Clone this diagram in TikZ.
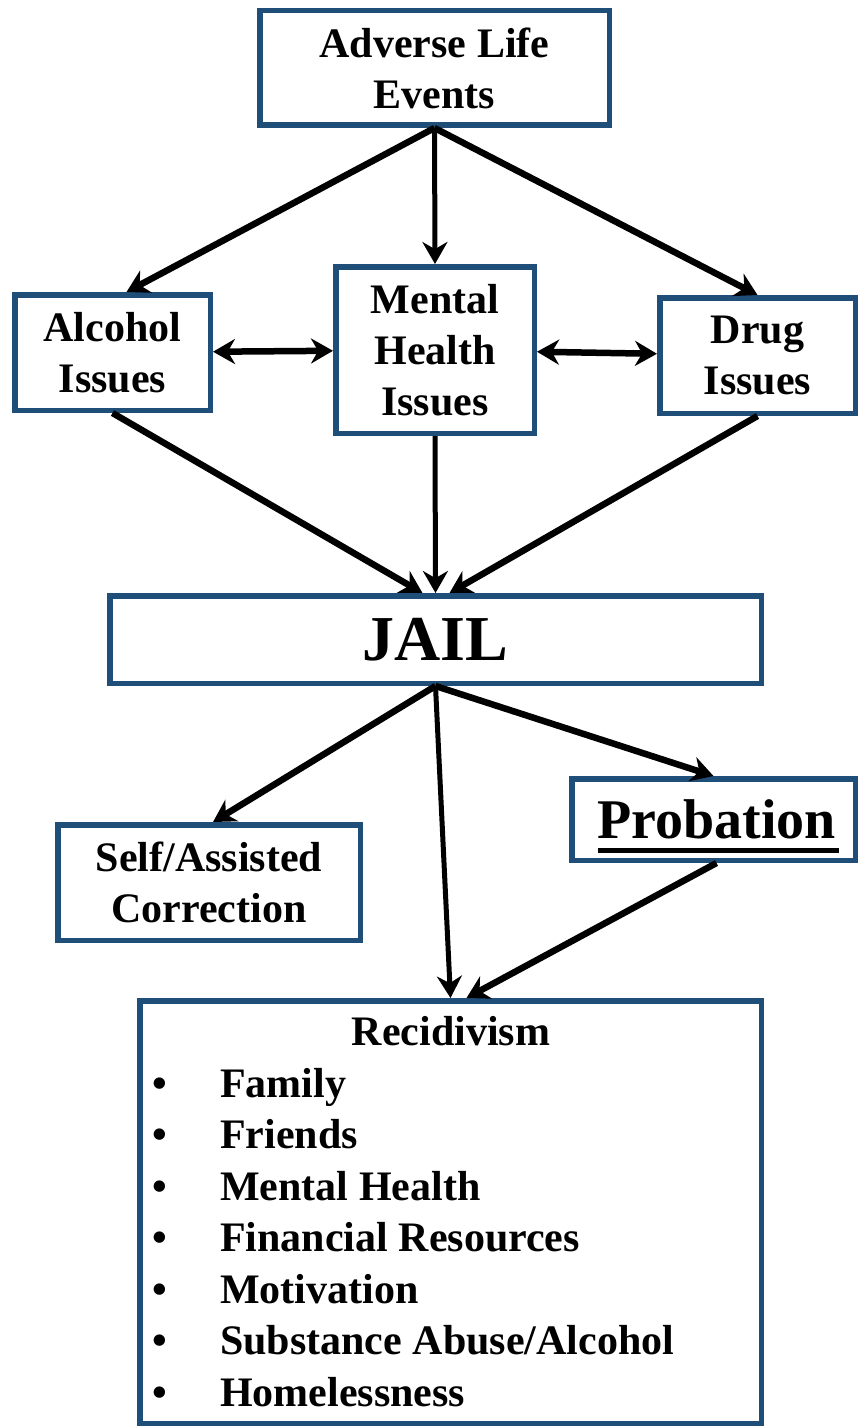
\documentclass[tikz,border=0pt]{standalone}
\usepackage{fontspec}
\setmainfont{Liberation Serif}
\usetikzlibrary{arrows.meta}
\definecolor{boxblue}{RGB}{31,78,121}

\begin{document}
\begin{tikzpicture}[x=1pt,y=-1pt,->,>={Stealth[length=22pt,width=25pt]},line width=6.5pt,
        box/.style={rectangle,draw=boxblue,line width=5.5pt,fill=white,align=center,inner sep=0pt,
          font=\bfseries\fontsize{42}{51}\selectfont},
        txt/.style={inner sep=0pt,font=\bfseries\fontsize{42}{51}\selectfont},
        vert/.style={line width=5pt}]
        \useasboundingbox (0,0) rectangle (858,1426);
        \node[box,minimum width=349.5pt,minimum height=114.5pt] (adv)  at (434.5,68)   {Adverse Life\\Events};
        \node[box,minimum width=195.5pt,minimum height=115.5pt] (alc)  at (112.5,352.5) {Alcohol\\Issues};
        \node[box,minimum width=198.5pt,minimum height=166.5pt] (mh)   at (435,350)    {Mental\\Health\\Issues};
        \node[box,minimum width=195.5pt,minimum height=115.5pt] (drug) at (757.5,355.5) {Drug\\Issues};
        \node[box,minimum width=651.5pt,minimum height=87.5pt,font=\bfseries\fontsize{64}{70}\selectfont]
                                                                (jail) at (435.5,639.5) {JAIL};
        \node[box,minimum width=302.5pt,minimum height=115.5pt] (self) at (209,882.5)  {Self/Assisted\\Correction};
        \node[box,minimum width=283.5pt,minimum height=81.5pt,font=\bfseries\fontsize{56}{60}\selectfont]
                                                                (prob) at (713.5,819.5) {\hspace*{6pt}Probation};
        \node[box,minimum width=621.5pt,minimum height=422.5pt] (recid) at (450.5,1212) {};
        % underline of Probation
        \draw[-,line width=5pt] ([xshift=-116pt,yshift=-12pt]prob.base) -- ([xshift=125pt,yshift=-12pt]prob.base);
        % contents of the recidivism box
        \node[txt,anchor=base] (rtitle) at (451,1045) {Recidivism};
        \foreach \item [count=\i from 0] in {Family,Friends,Mental Health,Financial Resources,
            Motivation,Substance Abuse/Alcohol,Homelessness} {
          \node[txt,anchor=base] (b\i) at (160,1097+51.5*\i) {\textbullet};
          \node[txt,anchor=base west] (r\i) at (217,1097+51.5*\i) {\item};
        }
        \path
          (adv.south) edge ([xshift=14pt]alc.north)
          (adv.south) edge[vert] (mh.north)
          (adv.south) edge (drug.north)
          (alc) edge[<->] (mh)
          (mh) edge[<->] (drug)
          (alc.south) edge ([xshift=-13pt]jail.north)
          (mh.south) edge[vert] (jail.north)
          (drug.south) edge ([xshift=14pt]jail.north)
          (jail.south) edge ([xshift=4pt]self.north)
          (jail.south) edge (prob.north)
          (jail.south) edge[vert] (recid.north)
          ([xshift=3pt]prob.south) edge ([xshift=16pt]recid.north)
          ;
\end{tikzpicture}
\end{document}
